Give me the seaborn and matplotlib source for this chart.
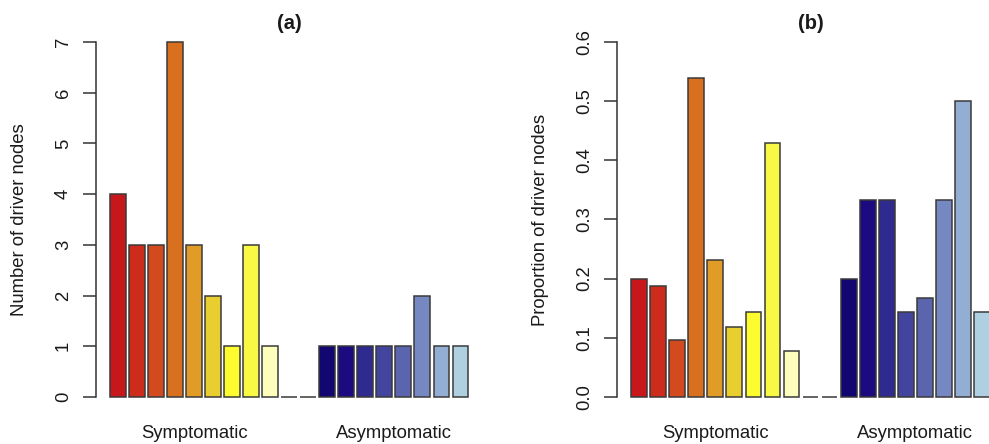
import seaborn as sns
import pandas as pd
import matplotlib.pyplot as plt

#-----------------------------------------------------------------------------------------------------------------------
"""Data read off the figure"""
groups = ['Symptomatic', 'Asymptomatic']

# (a) number of driver nodes
sym_counts = [4, 3, 3, 7, 3, 2, 1, 3, 1]
asym_counts = [1, 1, 1, 1, 1, 2, 1, 1]

# (b) proportion of driver nodes
sym_prop = [0.200, 0.1875, 0.0968, 0.5385, 0.2308, 0.1176, 0.1429, 0.4286, 0.0769]
asym_prop = [0.200, 0.3333, 0.3333, 0.1429, 0.1667, 0.3333, 0.500, 0.1429]

# empty slots between the two groups
n_gap = 2

sym_colors = ['#C8171B', '#CD2B1C', '#D24A1D', '#D97020', '#E09C26',
              '#E8CE2E', '#FCFC2E', '#F8F845', '#FEFEBC']
asym_colors = ['#120670', '#1C0A80', '#2E2A8E', '#43449E', '#5B65AE',
               '#7688C2', '#92AED2', '#AED0E0']

panels = [
    ('(a)', 'Number of driver nodes', sym_counts, asym_counts, [0, 1, 2, 3, 4, 5, 6, 7]),
    ('(b)', 'Proportion of driver nodes', sym_prop, asym_prop, [0.0, 0.1, 0.2, 0.3, 0.4, 0.5, 0.6]),
]

#-----------------------------------------------------------------------------------------------------------------------
"""Style"""
sns.set_style('white')
plt.rcParams['font.family'] = ['Liberation Sans', 'DejaVu Sans']
ink = '#1a1a1a'
axis_col = '#333333'
edge_col = '#3a3a3a'

#-----------------------------------------------------------------------------------------------------------------------
"""Figure"""
fig = plt.figure(figsize=(9.89, 4.44), dpi=100)
fig.patch.set_facecolor('white')

# left edges of the two plot regions (the right panel runs off the page, like the source)
lefts = [0.0971, 0.6242]

for (title, ylabel, sym, asym, yticks), left in zip(panels, lefts):
    ax = fig.add_axes([left, 0.0739, 0.391, 0.8635])

    values = list(sym) + [0] * n_gap + list(asym)
    colors = sym_colors + ['white'] * n_gap + asym_colors
    slots = ['s%d' % i for i in range(len(values))]
    df = pd.DataFrame({'slot': slots, 'value': values})

    sns.barplot(data=df, x='slot', y='value', hue='slot',
                palette=dict(zip(slots, colors)), width=1 / 1.2, saturation=1,
                edgecolor=edge_col, linewidth=1.1, legend=False, ax=ax)

    # group labels under the middle of each group
    sym_pos = list(range(len(sym)))
    asym_pos = list(range(len(sym) + n_gap, len(values)))
    ax.set_xticks([sum(sym_pos) / len(sym_pos), sum(asym_pos) / len(asym_pos)])
    ax.set_xticklabels(groups)
    ax.tick_params(axis='x', length=0, pad=10, labelsize=13.3, colors=ink)

    ymax = yticks[-1]
    ax.set_xlim(-1.153, len(values) + 0.17)
    ax.set_ylim(-0.04 * ymax, 1.04 * ymax)
    ax.set_yticks(yticks)
    ax.set_yticklabels([('%g' % t) if isinstance(t, int) else ('%.1f' % t) for t in yticks],
                       rotation=90, va='center')
    ax.tick_params(axis='y', direction='out', length=9.4, width=1.1, pad=8,
                   labelsize=13.3, colors=axis_col, labelcolor=ink, left=True)

    for side in ['top', 'right', 'bottom']:
        ax.spines[side].set_visible(False)
    ax.spines['left'].set_bounds(0, ymax)
    ax.spines['left'].set_color(axis_col)
    ax.spines['left'].set_linewidth(1.1)

    ax.set_xlabel('')
    ax.set_ylabel(ylabel, fontsize=13.3, color=ink)
    ax.yaxis.set_label_coords(-0.176, 0.5)
    ax.set_title(title, fontsize=14.5, fontweight='bold', color=ink, pad=-1)
    ax.set_facecolor('white')

fig.savefig('out.png', dpi=100, facecolor='white')
